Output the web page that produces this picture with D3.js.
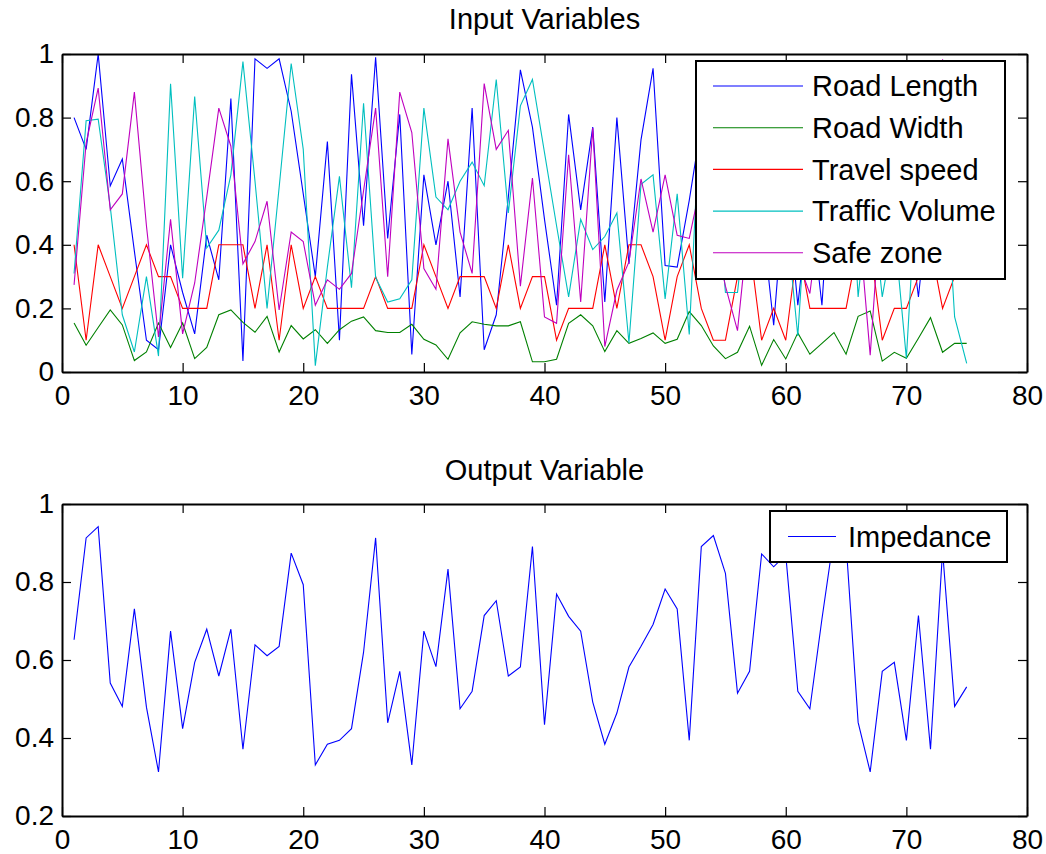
<!DOCTYPE html>
<html>
<head>
<meta charset="utf-8">
<script src="https://cdn.jsdelivr.net/npm/d3@7"></script>
<style>
  body { margin: 0; background: #fff; }
  svg { display: block; font-family: "Liberation Sans", Arial, sans-serif; }
  .axis path, .axis line { stroke: #000; }
  .axis text { fill: #000; }
</style>
</head>
<body>
<svg id="chart" width="1046" height="854"></svg>
<script>
// ---- data ----
const xTicks = [0, 10, 20, 30, 40, 50, 60, 70, 80];
const yTicksTop = [0, 0.2, 0.4, 0.6, 0.8, 1];
const yTicksBottom = [0.2, 0.4, 0.6, 0.8, 1];

const roadLength = [0.80, 0.70, 1.00, 0.585, 0.67, 0.38, 0.10, 0.07, 0.40, 0.25,
  0.12, 0.43, 0.29, 0.86, 0.035, 0.985, 0.955, 0.985, 0.82, 0.56,
  0.30, 0.725, 0.10, 0.936, 0.46, 0.99, 0.42, 0.81, 0.055, 0.62,
  0.40, 0.60, 0.236, 0.83, 0.07, 0.18, 0.55, 0.95, 0.77, 0.48,
  0.21, 0.81, 0.51, 0.77, 0.22, 0.80, 0.34, 0.73, 0.955, 0.335,
  0.33, 0.54, 0.78, 0.45, 0.60, 0.35, 0.70, 0.50, 0.147, 0.62,
  0.21, 0.55, 0.21, 0.80, 0.45, 0.60, 0.35, 0.70, 0.40, 0.55,
  0.236, 0.60, 0.45, 0.70, 0.30];

const roadWidth = [0.154, 0.084, 0.14, 0.195, 0.148, 0.036, 0.063, 0.154, 0.077, 0.154,
  0.042, 0.077, 0.18, 0.195, 0.156, 0.125, 0.175, 0.063, 0.146, 0.104,
  0.133, 0.09, 0.133, 0.16, 0.173, 0.13, 0.124, 0.124, 0.15, 0.103,
  0.085, 0.04, 0.123, 0.158, 0.15, 0.145, 0.145, 0.158, 0.032, 0.032,
  0.04, 0.153, 0.18, 0.145, 0.064, 0.13, 0.09, 0.105, 0.123, 0.09,
  0.103, 0.19, 0.146, 0.082, 0.042, 0.062, 0.144, 0.021, 0.102, 0.041,
  0.123, 0.056, 0.09, 0.124, 0.056, 0.175, 0.192, 0.034, 0.062, 0.043,
  0.106, 0.171, 0.062, 0.09, 0.09];

const travelSpeed = [0.4, 0.1, 0.4, 0.3, 0.2, 0.3, 0.4, 0.3, 0.3, 0.2,
  0.2, 0.2, 0.4, 0.4, 0.4, 0.2, 0.4, 0.1, 0.4, 0.2,
  0.3, 0.2, 0.2, 0.2, 0.2, 0.3, 0.2, 0.2, 0.2, 0.4,
  0.3, 0.2, 0.3, 0.3, 0.3, 0.2, 0.4, 0.2, 0.3, 0.3,
  0.1, 0.2, 0.2, 0.2, 0.4, 0.2, 0.4, 0.4, 0.3, 0.1,
  0.3, 0.4, 0.2, 0.1, 0.1, 0.3, 0.4, 0.1, 0.2, 0.1,
  0.4, 0.2, 0.2, 0.2, 0.2, 0.4, 0.4, 0.1, 0.2, 0.2,
  0.3, 0.4, 0.2, 0.3, 0.3];

const trafficVolume = [0.31, 0.79, 0.795, 0.52, 0.18, 0.063, 0.30, 0.05, 0.906, 0.295,
  0.866, 0.39, 0.446, 0.62, 0.976, 0.60, 0.20, 0.58, 0.97, 0.70,
  0.02, 0.33, 0.615, 0.265, 0.845, 0.297, 0.22, 0.23, 0.29, 0.83,
  0.55, 0.51, 0.60, 0.66, 0.586, 0.92, 0.50, 0.837, 0.92, 0.69,
  0.46, 0.236, 0.48, 0.385, 0.426, 0.50, 0.092, 0.59, 0.62, 0.23,
  0.56, 0.118, 0.90, 0.70, 0.25, 0.25, 0.60, 0.45, 0.85, 0.50,
  0.113, 0.70, 0.40, 0.65, 0.90, 0.236, 0.60, 0.236, 0.45, 0.043,
  0.70, 0.50, 0.80, 0.173, 0.027];

const safeZone = [0.274, 0.72, 0.893, 0.51, 0.56, 0.88, 0.46, 0.11, 0.48, 0.12,
  0.28, 0.55, 0.83, 0.71, 0.34, 0.41, 0.537, 0.195, 0.44, 0.41,
  0.21, 0.29, 0.26, 0.31, 0.57, 0.83, 0.30, 0.88, 0.753, 0.325,
  0.26, 0.733, 0.44, 0.31, 0.907, 0.70, 0.76, 0.27, 0.61, 0.173,
  0.153, 0.683, 0.22, 0.767, 0.08, 0.257, 0.346, 0.607, 0.44, 0.62,
  0.43, 0.42, 0.60, 0.45, 0.27, 0.13, 0.50, 0.70, 0.40, 0.65,
  0.35, 0.247, 0.55, 0.40, 0.75, 0.50, 0.053, 0.60, 0.35, 0.55,
  0.40, 0.60, 0.983, 0.50, 0.40];

const impedance = [0.652, 0.913, 0.942, 0.541, 0.481, 0.731, 0.479, 0.313, 0.674, 0.424,
  0.594, 0.679, 0.559, 0.679, 0.371, 0.639, 0.611, 0.635, 0.874, 0.793,
  0.331, 0.384, 0.394, 0.424, 0.62, 0.913, 0.439, 0.571, 0.331, 0.674,
  0.583, 0.833, 0.475, 0.52, 0.714, 0.752, 0.559, 0.582, 0.891, 0.434,
  0.769, 0.712, 0.674, 0.492, 0.384, 0.464, 0.582, 0.635, 0.691, 0.782,
  0.731, 0.394, 0.891, 0.919, 0.822, 0.515, 0.571, 0.872, 0.839, 0.87,
  0.52, 0.475, 0.705, 0.92, 0.90, 0.44, 0.313, 0.571, 0.594, 0.394,
  0.714, 0.371, 0.88, 0.481, 0.531];

const inputSeries = [
  { name: 'Road Length', values: roadLength, color: '#0000ff' },
  { name: 'Road Width', values: roadWidth, color: '#008000' },
  { name: 'Travel speed', values: travelSpeed, color: '#ff0000' },
  { name: 'Traffic Volume', values: trafficVolume, color: '#00bfbf' },
  { name: 'Safe zone', values: safeZone, color: '#bf00bf' }
];
const outputSeries = [
  { name: 'Impedance', values: impedance, color: '#0000ff' }
];

const svg = d3.select('#chart');
const FONT = 28;      // tick labels
const FONT_TXT = 29;  // titles + legend
const TICK = 9;

function drawPanel(opt) {
  // opt: box {left,right,top,bottom}, yDomain, yTicks, title, series, legend
  const b = opt.box;
  const x = d3.scaleLinear().domain([0, 80]).range([b.left, b.right]);
  const y = d3.scaleLinear().domain(opt.yDomain).range([b.bottom, b.top]);
  const g = svg.append('g');

  // clip lines to the axes box
  const clipId = 'clip-' + opt.id;
  svg.append('clipPath').attr('id', clipId)
    .append('rect')
      .attr('x', b.left).attr('y', b.top)
      .attr('width', b.right - b.left).attr('height', b.bottom - b.top);

  const line = d3.line()
    .x((d, i) => x(i + 1))
    .y(d => y(d));

  opt.series.forEach(s => {
    g.append('path')
      .datum(s.values)
      .attr('clip-path', 'url(#' + clipId + ')')
      .attr('d', line)
      .attr('fill', 'none')
      .attr('stroke', s.color)
      .attr('stroke-width', 1.1)
      .attr('stroke-linejoin', 'miter');
  });

  const fmt = d3.format('~g');

  // bottom + left with labels, top + right mirrored ticks only
  g.append('g').attr('class', 'axis')
    .attr('transform', 'translate(0,' + b.bottom + ')')
    .call(d3.axisBottom(x).tickValues(xTicks).tickFormat(fmt)
      .tickSizeInner(-TICK).tickSizeOuter(0).tickPadding(13))
    .call(a => a.selectAll('text').attr('font-size', FONT));

  g.append('g').attr('class', 'axis')
    .attr('transform', 'translate(' + b.left + ',0)')
    .call(d3.axisLeft(y).tickValues(opt.yTicks).tickFormat(fmt)
      .tickSizeInner(-TICK).tickSizeOuter(0).tickPadding(8))
    .call(a => a.selectAll('text').attr('font-size', FONT));

  g.append('g').attr('class', 'axis')
    .attr('transform', 'translate(0,' + b.top + ')')
    .call(d3.axisTop(x).tickValues(xTicks).tickFormat('')
      .tickSizeInner(-TICK).tickSizeOuter(0));

  g.append('g').attr('class', 'axis')
    .attr('transform', 'translate(' + b.right + ',0)')
    .call(d3.axisRight(y).tickValues(opt.yTicks).tickFormat('')
      .tickSizeInner(-TICK).tickSizeOuter(0));

  g.selectAll('.axis path').attr('stroke-width', 2);
  g.selectAll('.axis line').attr('stroke-width', 1.2);

  // title
  g.append('text')
    .attr('x', (b.left + b.right) / 2)
    .attr('y', opt.titleY)
    .attr('text-anchor', 'middle')
    .attr('font-size', FONT_TXT)
    .text(opt.title);

  // legend
  const L = opt.legend;
  const lg = g.append('g');
  lg.append('rect')
    .attr('x', L.x).attr('y', L.y)
    .attr('width', L.w).attr('height', L.h)
    .attr('fill', '#fff').attr('stroke', '#000').attr('stroke-width', 2);
  opt.series.forEach((s, i) => {
    const cy = L.firstY + i * L.step;
    lg.append('line')
      .attr('x1', L.x + L.lineX0).attr('x2', L.x + L.lineX1)
      .attr('y1', cy).attr('y2', cy)
      .attr('stroke', s.color).attr('stroke-width', 1.1);
    lg.append('text')
      .attr('x', L.x + L.textX)
      .attr('y', cy)
      .attr('dy', '0.35em')
      .attr('font-size', FONT_TXT)
      .text(s.name);
  });
}

drawPanel({
  id: 'top',
  box: { left: 62, right: 1027, top: 54, bottom: 372 },
  yDomain: [0, 1],
  yTicks: yTicksTop,
  title: 'Input Variables',
  titleY: 29,
  series: inputSeries,
  legend: { x: 696, y: 61, w: 309, h: 218, firstY: 86, step: 41.7,
            lineX0: 17, lineX1: 107, textX: 116 }
});

drawPanel({
  id: 'bottom',
  box: { left: 62, right: 1027, top: 504, bottom: 816 },
  yDomain: [0.2, 1],
  yTicks: yTicksBottom,
  title: 'Output Variable',
  titleY: 480,
  series: outputSeries,
  legend: { x: 770, y: 511, w: 237, h: 51, firstY: 536.5, step: 0,
            lineX0: 18, lineX1: 66, textX: 78 }
});
</script>
</body>
</html>
